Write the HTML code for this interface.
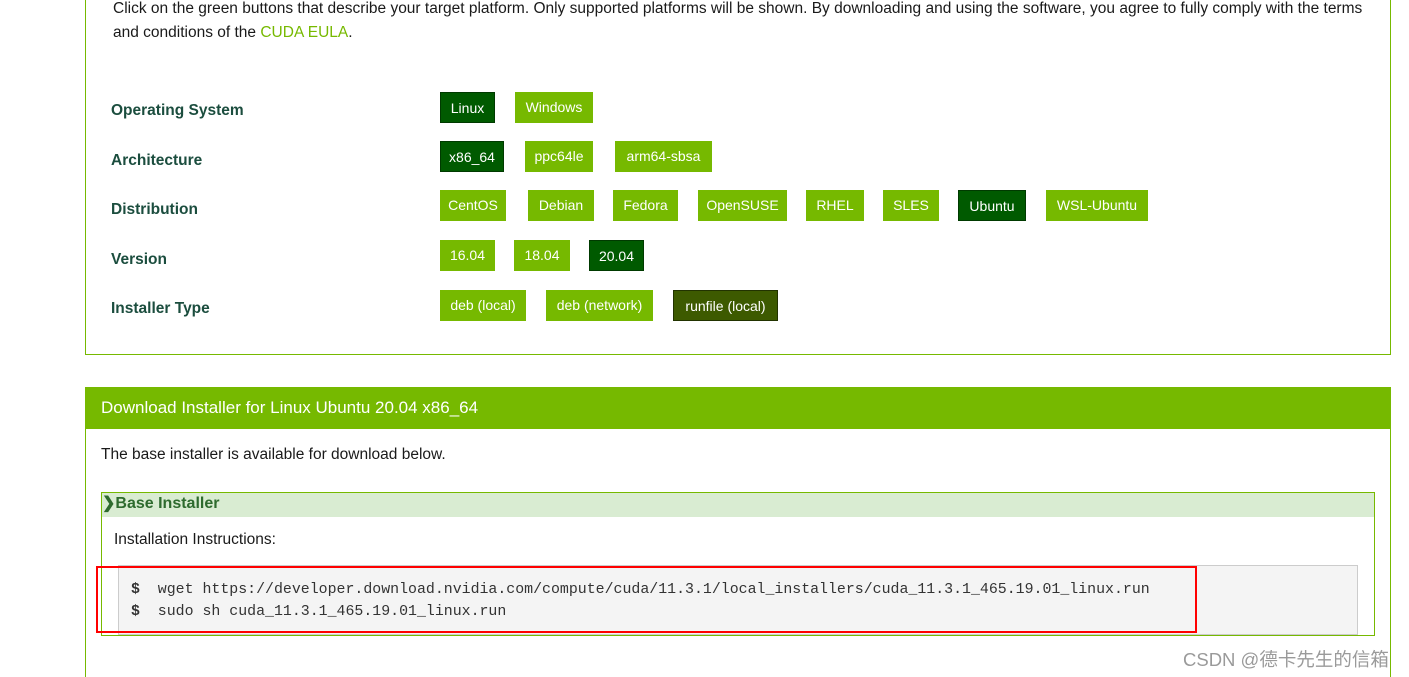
<!DOCTYPE html>
<html style="width:1409px;height:677px;overflow:hidden;"><head><meta charset="utf-8"><style>
body{margin:0;width:1409px;height:677px;background:#fff;position:relative;overflow:hidden;font-family:"Liberation Sans Narrow","Liberation Sans",sans-serif;}
.a{position:absolute;}
.t{color:#1a1a1a;font-size:15.5px;}
.lbl{position:absolute;left:111px;color:#1b4d3e;font-size:15.5px;font-weight:bold;}
.b{position:absolute;height:31px;line-height:31px;text-align:center;color:#fff;font-size:14px;background:#76b900;box-sizing:border-box;}
.d{background:#005a00;border:1px solid #003a00;}
.r{background:#3d5a00;border:1px solid #223300;}
.mono{font-family:"Liberation Mono",monospace;font-size:14.9px;color:#333;}
</style></head><body>
<div class="a" style="left:85px;top:-2px;width:1306px;height:357px;border:1px solid #76b900;border-top:none;box-sizing:border-box;"></div>
<div class="a t" style="left:113px;top:-3px;width:1252px;line-height:24px;">Click on the green buttons that describe your target platform. Only supported platforms will be shown. By downloading and using the software, you agree to fully comply with the terms and conditions of the <span style="color:#76b900">CUDA EULA</span>.</div>

<div class="lbl" style="top:102px">Operating System</div>
<div class="lbl" style="top:152px">Architecture</div>
<div class="lbl" style="top:201px">Distribution</div>
<div class="lbl" style="top:251px">Version</div>
<div class="lbl" style="top:300px">Installer Type</div>

<div class="b d" style="left:440px;top:92px;width:55px;">Linux</div>
<div class="b" style="left:515px;top:92px;width:78px;">Windows</div>

<div class="b d" style="left:440px;top:141px;width:64px;">x86_64</div>
<div class="b" style="left:525px;top:141px;width:68px;">ppc64le</div>
<div class="b" style="left:615px;top:141px;width:97px;">arm64-sbsa</div>

<div class="b" style="left:440px;top:190px;width:66px;">CentOS</div>
<div class="b" style="left:528px;top:190px;width:66px;">Debian</div>
<div class="b" style="left:613px;top:190px;width:65px;">Fedora</div>
<div class="b" style="left:698px;top:190px;width:89px;">OpenSUSE</div>
<div class="b" style="left:806px;top:190px;width:58px;">RHEL</div>
<div class="b" style="left:883px;top:190px;width:56px;">SLES</div>
<div class="b d" style="left:958px;top:190px;width:68px;">Ubuntu</div>
<div class="b" style="left:1046px;top:190px;width:102px;">WSL-Ubuntu</div>

<div class="b" style="left:440px;top:240px;width:55px;">16.04</div>
<div class="b" style="left:514px;top:240px;width:56px;">18.04</div>
<div class="b d" style="left:589px;top:240px;width:55px;">20.04</div>

<div class="b" style="left:440px;top:290px;width:86px;">deb (local)</div>
<div class="b" style="left:546px;top:290px;width:107px;">deb (network)</div>
<div class="b r" style="left:673px;top:290px;width:105px;">runfile (local)</div>

<div class="a" style="left:85px;top:387px;width:1306px;height:290px;border:1px solid #76b900;border-bottom:none;box-sizing:border-box;"></div>
<div class="a" style="left:85px;top:387px;width:1306px;height:42px;background:#76b900;color:#fff;font-size:17px;line-height:42px;padding-left:16px;box-sizing:border-box;">Download Installer for Linux Ubuntu 20.04 x86_64</div>
<div class="a t" style="left:101px;top:446px;">The base installer is available for download below.</div>

<div class="a" style="left:101px;top:492px;width:1274px;height:144px;border:1px solid #76b900;box-sizing:border-box;"></div>
<div class="a" style="left:102px;top:493px;width:1272px;height:24px;background:#d9ecd2;color:#2e6b2e;font-weight:bold;font-size:16px;line-height:22px;">&#10095;Base Installer</div>
<div class="a t" style="left:114px;top:531px;">Installation Instructions:</div>

<div class="a" style="left:118px;top:565px;width:1240px;height:70px;background:#f4f4f4;border:1px solid #ccc;box-sizing:border-box;"></div>
<div class="a mono" style="left:131px;top:579px;line-height:22px;white-space:pre;"><b>$</b>  wget https://developer.download.nvidia.com/compute/cuda/11.3.1/local_installers/cuda_11.3.1_465.19.01_linux.run
<b>$</b>  sudo sh cuda_11.3.1_465.19.01_linux.run</div>

<div class="a" style="left:96px;top:566px;width:1101px;height:67px;border:2px solid #f00;box-sizing:border-box;"></div>

<div class="a" style="left:1183px;top:646px;color:#9a9a9a;font-size:18.5px;font-family:'Liberation Sans','Noto Sans CJK SC',sans-serif;">CSDN @德卡先生的信箱</div>
</body></html>
